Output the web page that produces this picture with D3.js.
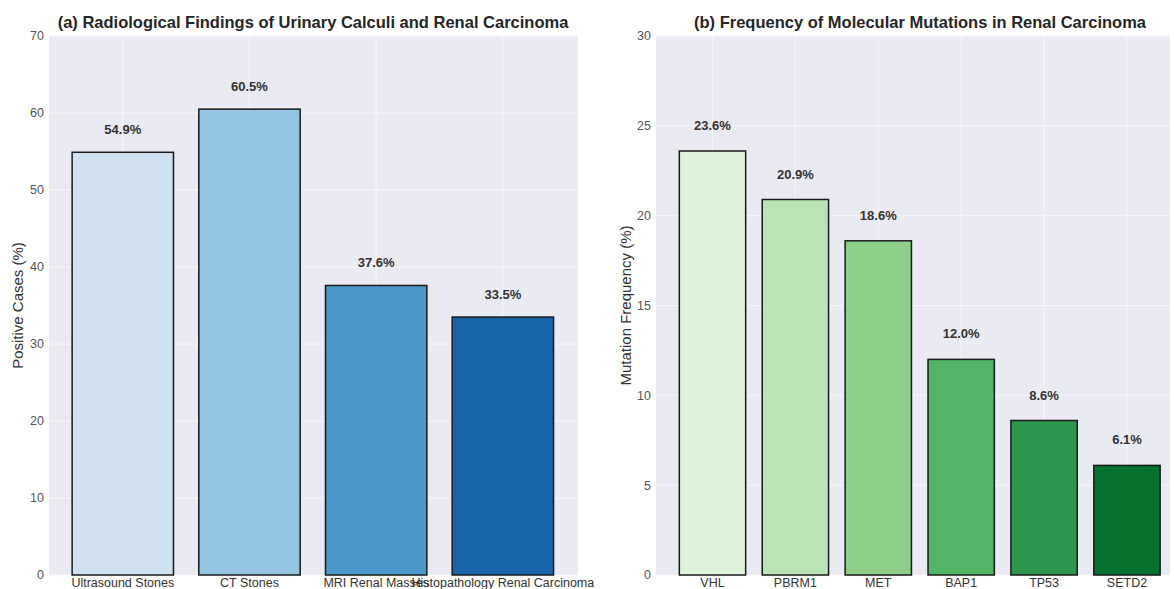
<!DOCTYPE html>
<html>
<head>
<meta charset="utf-8">
<script src="https://cdn.jsdelivr.net/npm/d3@7"></script>
<style>
  body { margin: 0; background: #fff; }
  svg { display: block; font-family: "Liberation Sans", Arial, sans-serif; }
</style>
</head>
<body>
<svg id="chart" width="1174" height="589"></svg>
<script>
// ---- data ----
const radiologyCategories = ["Ultrasound Stones", "CT Stones", "MRI Renal Masses", "Histopathology Renal Carcinoma"];
const radiologyValues = [54.9, 60.5, 37.6, 33.5];
const radiologyTicks = [0, 10, 20, 30, 40, 50, 60, 70];

const mutationCategories = ["VHL", "PBRM1", "MET", "BAP1", "TP53", "SETD2"];
const mutationValues = [23.6, 20.9, 18.6, 12.0, 8.6, 6.1];
const mutationTicks = [0, 5, 10, 15, 20, 25, 30];

// ---- styles ----
const bluePalette = ["#d0e1f2", "#94c4df", "#4a98c9", "#1764ab"];
const greenPalette = ["#dff3da", "#bbe4b4", "#8dcf89", "#52b565", "#2d964d", "#077130"];

const svg = d3.select("#chart");

function panel(opts) {
  const g = svg.append("g");
  const { left, right, top, bottom, xDomain, yMax, cats, vals, ticks, colors, title, titleX, ylabel, ylabelX, labelOffset } = opts;
  const x = d3.scaleLinear().domain(xDomain).range([left, right]);
  const y = d3.scaleLinear().domain([0, yMax]).range([bottom, top]);
  const step = x(1) - x(0);
  const bw = step * 0.8;

  g.append("rect").attr("x", left).attr("y", top).attr("width", right - left).attr("height", bottom - top)
    .attr("fill", "#eaeaf2");

  // grid
  g.append("g").selectAll("line.h").data(ticks).join("line")
    .attr("x1", left).attr("x2", right).attr("y1", d => y(d)).attr("y2", d => y(d))
    .attr("stroke", "#f7f7fa").attr("stroke-width", 1);
  g.append("g").selectAll("line.v").data(cats).join("line")
    .attr("x1", (d, i) => x(i)).attr("x2", (d, i) => x(i)).attr("y1", top).attr("y2", bottom)
    .attr("stroke", "#f7f7fa").attr("stroke-width", 1);

  // bars
  g.append("g").selectAll("rect").data(vals).join("rect")
    .attr("x", (d, i) => x(i) - bw / 2).attr("width", bw)
    .attr("y", d => y(d)).attr("height", d => y(0) - y(d))
    .attr("fill", (d, i) => colors[i])
    .attr("stroke", "#1a1a1a").attr("stroke-width", 1.5);

  // value labels
  g.append("g").selectAll("text").data(vals).join("text")
    .attr("x", (d, i) => x(i)).attr("y", d => y(d + labelOffset) - 3)
    .attr("text-anchor", "middle").attr("font-size", 13).attr("font-weight", "bold")
    .attr("fill", "#333").text(d => d.toFixed(1) + "%");

  // y tick labels
  g.append("g").selectAll("text").data(ticks).join("text")
    .attr("x", left - 5).attr("y", d => y(d)).attr("dy", "0.35em")
    .attr("text-anchor", "end").attr("font-size", 12.5).attr("fill", "#555")
    .text(d => d);

  // x tick labels
  g.append("g").selectAll("text").data(cats).join("text")
    .attr("x", (d, i) => x(i)).attr("y", bottom + 12)
    .attr("text-anchor", "middle").attr("font-size", 12.5).attr("fill", "#333")
    .text(d => d);

  // title
  g.append("text").attr("x", titleX).attr("y", 28).attr("text-anchor", "middle")
    .attr("font-size", 16.5).attr("font-weight", "bold").attr("fill", "#262626").text(title);

  // y label
  g.append("text").attr("transform", `translate(${ylabelX},${(top + bottom) / 2}) rotate(-90)`)
    .attr("text-anchor", "middle").attr("font-size", 15).attr("fill", "#333").text(ylabel);
}

panel({
  left: 49, right: 578, top: 36, bottom: 575,
  xDomain: [-0.5825, 3.593], yMax: 70,
  cats: radiologyCategories, vals: radiologyValues, ticks: radiologyTicks, colors: bluePalette,
  title: "(a) Radiological Findings of Urinary Calculi and Renal Carcinoma", titleX: 313,
  ylabel: "Positive Cases (%)", ylabelX: 23, labelOffset: 2
});

panel({
  left: 656, right: 1170, top: 36, bottom: 575,
  xDomain: [-0.6815, 5.519], yMax: 30,
  cats: mutationCategories, vals: mutationValues, ticks: mutationTicks, colors: greenPalette,
  title: "(b) Frequency of Molecular Mutations in Renal Carcinoma", titleX: 920,
  ylabel: "Mutation Frequency (%)", ylabelX: 631, labelOffset: 1
});
</script>
</body>
</html>
